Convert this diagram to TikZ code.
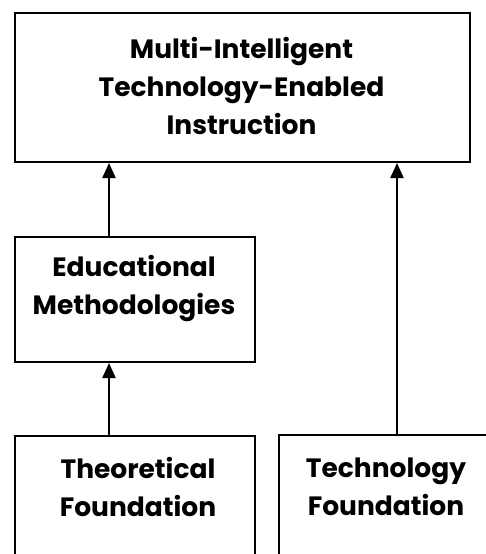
\documentclass[tikz,border=0pt]{standalone}
\usepackage{fontspec}
\setmainfont{Poppins}
\usetikzlibrary{arrows.meta}
\tikzset{
  box/.style={draw, line width=2pt, inner sep=0pt, anchor=north west},
  lbl/.style={font=\fontsize{26.5}{38}\selectfont\bfseries, align=center, inner sep=0pt},
  arr/.style={-{Triangle[width=13pt,length=15pt]}, line width=2pt}
}
\begin{document}
\begin{tikzpicture}[x=1pt,y=-1pt]
\useasboundingbox (0,0) rectangle (486,554);
\clip (0,0) rectangle (486,554);
\node[box, minimum width=455pt, minimum height=149pt] (top) at (14,12) {};
\node[box, minimum width=240pt, minimum height=125pt] (edu) at (14,236) {};
\node[box, minimum width=240pt, minimum height=150pt] (theo) at (14,435) {};
\node[box, minimum width=230pt, minimum height=150pt] (tech) at (278,434) {};
\node[lbl] (ttop) at (241.5,86) {Multi-Intelligent\\Technology-Enabled\\Instruction};
\node[lbl] (tedu) at (134,289) {Educational\\Methodologies};
\node[lbl] (ttheo) at (138,487) {Theoretical\\Foundation};
\node[lbl] (ttech) at (386,487) {Technology\\Foundation};
\coordinate (ax1) at (109,0);
\coordinate (ax2) at (397,0);
\draw[arr] (edu.north -| ax1) -- (top.south -| ax1);
\draw[arr] (theo.north -| ax1) -- (edu.south -| ax1);
\draw[arr] (tech.north -| ax2) -- (top.south -| ax2);
\end{tikzpicture}
\end{document}
